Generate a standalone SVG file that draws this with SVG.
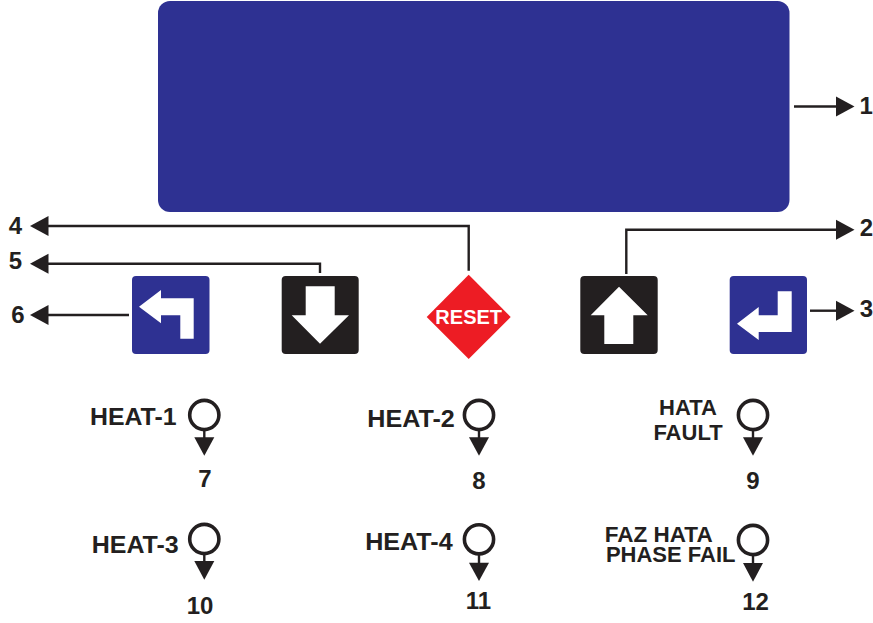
<svg xmlns="http://www.w3.org/2000/svg" width="873" height="623" viewBox="0 0 873 623">
<style>
text{font-family:"Liberation Sans",Arial,sans-serif;font-weight:700;fill:#231f20}
.n{font-size:24px;text-anchor:middle}
.l{font-size:23px}
.m{font-size:22px;text-anchor:middle}
.w{font-size:20px;fill:#fff;text-anchor:middle}
.c{fill:none;stroke:#231f20;stroke-width:2.4}
.led{fill:#fff;stroke:#231f20;stroke-width:3.6}
.blue{fill:#2e3192}
.blk{fill:#231f20}
.g{fill:#fff}
</style>
<defs>
<marker id="a" markerUnits="userSpaceOnUse" markerWidth="19" markerHeight="21" refX="0.5" refY="10.5" orient="auto">
<polygon points="0,0.5 18.5,10.5 0,20.5" fill="#231f20"/>
</marker>
</defs>
<g id="display"><rect x="158" y="1" width="631.5" height="211" rx="12" class="blue"/></g>
<g id="connectors">
<path class="c" d="M794 106.500H836.500" marker-end="url(#a)"/>
<path class="c" d="M626.300 274V229.700H836.500" marker-end="url(#a)"/>
<path class="c" d="M810 310.700H836.500" marker-end="url(#a)"/>
<path class="c" d="M468.700 270.700V226H48" marker-end="url(#a)"/>
<path class="c" d="M320 273V263.700H48" marker-end="url(#a)"/>
<path class="c" d="M129 315H48" marker-end="url(#a)"/>
<path class="c" d="M204.300 431V438"/>
<path class="c" d="M479 431V438"/>
<path class="c" d="M753 431V438"/>
<path class="c" d="M204.300 555V562"/>
<path class="c" d="M479 555V563"/>
<path class="c" d="M753 556V564"/>
</g>
<g id="btn-left"><rect x="132" y="276" width="77.500" height="78" rx="4" class="blue"/><polygon class="g" points="139,306.700 161,290 161,298.300 193.700,298.300 193.700,338.700 180.300,338.700 180.300,315.300 161,315.300 161,323.300"/></g>
<g id="btn-down"><rect x="281.700" y="276" width="77" height="78" rx="4" class="blk"/><polygon class="g" points="305.700,286.300 334.700,286.300 334.700,315.300 349,315.300 320,343.700 291.700,315.300 305.700,315.300"/></g>
<g id="btn-reset"><polygon points="468.700,274.700 510.700,317 468.700,359 426.700,317" fill="#ed1c24"/><text class="w" x="468.700" y="324">RESET</text></g>
<g id="btn-up"><rect x="580.300" y="276" width="77.400" height="78" rx="4" class="blk"/><polygon class="g" points="619,286.700 647.700,315.300 633.300,315.300 633.300,344 604.300,344 604.300,315.300 590.700,315.300"/></g>
<g id="btn-enter"><rect x="729.700" y="276" width="77.300" height="78" rx="4" class="blue"/><polygon class="g" points="737,323.700 758.700,307 758.700,315.300 777.700,315.300 777.700,291.300 791.700,291.300 791.700,332 758.700,332 758.700,340"/></g>
<g id="led-1"><circle class="led" cx="204.300" cy="415" r="14.600"/><polygon class="blk" points="194.300,437.300 214.300,437.300 204.300,455.700"/><text class="l" x="90" y="425" textLength="86.500" lengthAdjust="spacingAndGlyphs">HEAT-1</text><text class="n" x="205" y="487">7</text></g>
<g id="led-2"><circle class="led" cx="479" cy="415" r="14.600"/><polygon class="blk" points="469,437.300 489,437.300 479,455.700"/><text class="l" x="367.300" y="427" textLength="87.500" lengthAdjust="spacingAndGlyphs">HEAT-2</text><text class="n" x="479" y="489">8</text></g>
<g id="led-3"><circle class="led" cx="753" cy="415" r="14.600"/><polygon class="blk" points="743,437.300 763,437.300 753,455.700"/><text class="m" x="688" y="415">HATA</text><text class="m" x="688" y="440">FAULT</text><text class="n" x="753" y="488.500">9</text></g>
<g id="led-4"><circle class="led" cx="204.300" cy="539" r="14.600"/><polygon class="blk" points="194.300,561 214.300,561 204.300,579.700"/><text class="l" x="91.700" y="552.700" textLength="87" lengthAdjust="spacingAndGlyphs">HEAT-3</text><text class="n" x="200" y="614">10</text></g>
<g id="led-5"><circle class="led" cx="479" cy="539.300" r="14.600"/><polygon class="blk" points="469,562.700 489,562.700 479,581"/><text class="l" x="365.200" y="550" textLength="87.500" lengthAdjust="spacingAndGlyphs">HEAT-4</text><text class="n" x="478.500" y="609">11</text></g>
<g id="led-6"><circle class="led" cx="753" cy="540" r="14.600"/><polygon class="blk" points="743,563 763,563 753,581.700"/><text class="m" x="658.700" y="542.300" style="font-size:22.500px">FAZ HATA</text><text class="m" x="670.700" y="562.300">PHASE FAIL</text><text class="n" x="755.500" y="610">12</text></g>
<g id="numbers">
<text class="n" x="866.300" y="114">1</text>
<text class="n" x="866.500" y="236">2</text>
<text class="n" x="866.500" y="317">3</text>
<text class="n" x="15.500" y="234">4</text>
<text class="n" x="15.500" y="269">5</text>
<text class="n" x="18" y="323">6</text>
</g>
</svg>
